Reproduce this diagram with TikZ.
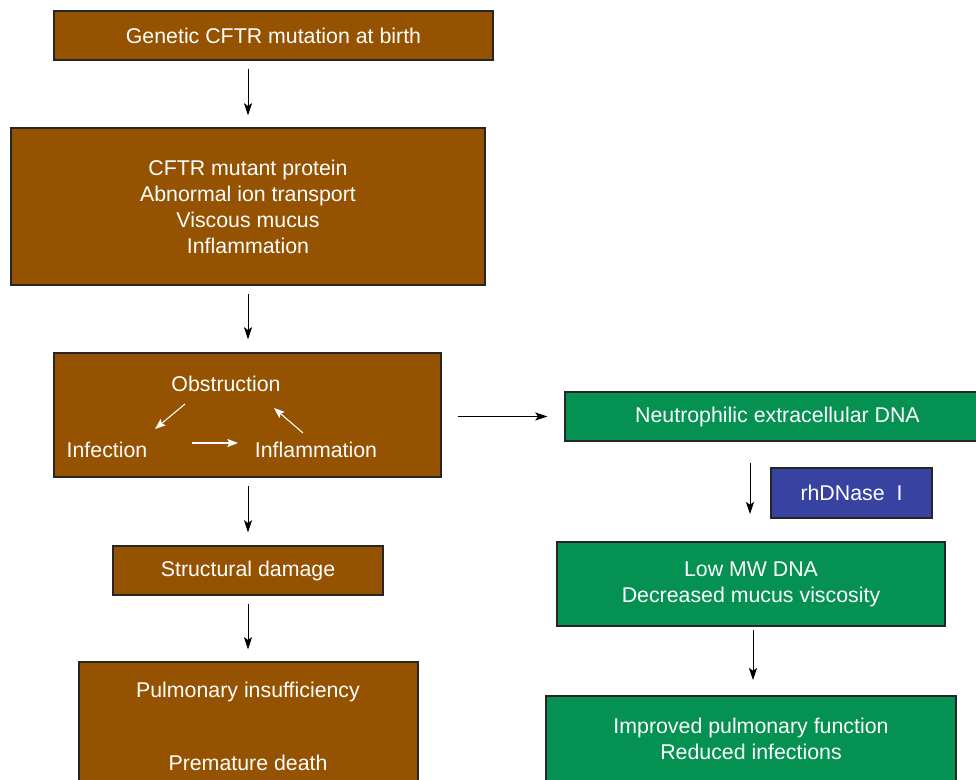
\documentclass[tikz,border=0pt]{standalone}
\usepackage{fontspec}
\setmainfont{Liberation Sans}
\usetikzlibrary{arrows.meta}
\definecolor{cfbrown}{RGB}{149,82,0}
\definecolor{cfgreen}{RGB}{4,145,82}
\definecolor{cfblue}{RGB}{56,66,160}
\tikzset{
  box/.style={draw=black!85, line width=1.1pt, text=white, inner sep=0pt, align=center,
    font=\fontsize{16}{19.5}\selectfont},
  brownbox/.style={box, fill=cfbrown},
  greenbox/.style={box, fill=cfgreen},
  bluebox/.style={box, fill=cfblue},
  lbl/.style={text=white, inner sep=0pt, font=\fontsize{16}{19.5}\selectfont},
  arr/.style={-{Stealth[length=9pt,width=6pt,inset=2pt]}, line width=0.7pt, black},
  warr/.style={-{Stealth[length=8pt,width=6pt,inset=1.5pt]}, line width=0.8pt, white},
}
\begin{document}
\begin{tikzpicture}[x=0.75pt,y=-0.75pt]
\useasboundingbox (0,0) rectangle (976,780);
\begin{scope}
\clip (0,0) rectangle (976,780);
\node[brownbox, minimum width=329.25pt, minimum height=36.75pt] (g) at (273.5,35.5) {Genetic CFTR mutation at birth};
\node[brownbox, minimum width=355.5pt, minimum height=117.75pt] (c) at (248,206.5) {CFTR mutant protein\\Abnormal ion transport\\Viscous mucus\\Inflammation};
\node[brownbox, minimum width=290.25pt, minimum height=93pt] (o) at (247.5,415) {};
\node[lbl] (obs) at (226,384) {Obstruction};
\node[lbl] (inf) at (107,450) {Infection};
\node[lbl] (infl) at (316,450) {Inflammation};
\node[brownbox, minimum width=202.5pt, minimum height=36.75pt] (s) at (248,570.5) {Structural damage};
\node[brownbox, minimum width=254.25pt, minimum height=98.25pt] (p) at (248.5,727.5) {};
\node[lbl] (pi) at (248,692) {Pulmonary insufficiency};
\node[lbl] (pd) at (248,763) {Premature death};
\node[greenbox, minimum width=318.75pt, minimum height=36.75pt] (n) at (777.5,416.5) {Neutrophilic extracellular DNA};
\node[bluebox, minimum width=120.75pt, minimum height=37.5pt] (r) at (851.5,493) {rhDNase\ \ I};
\node[greenbox, minimum width=291pt, minimum height=63pt] (l) at (751,584) {Low MW DNA\\Decreased mucus viscosity};
\node[greenbox, minimum width=307.5pt, minimum height=64.5pt] (i) at (751,739) {Improved pulmonary function\\Reduced infections};
\end{scope}
% main arrows
\draw[arr, shorten <=6pt, shorten >=9pt] (g.south -| c.north) -- (c.north);
\draw[arr, shorten <=6pt, shorten >=9.75pt] (c.south) -- (c.south |- o.north);
\draw[arr, shorten <=6pt, shorten >=9.75pt] (o.south -| s.north) -- (s.north);
\draw[arr, shorten <=6pt, shorten >=9pt] (s.south) -- (s.south |- p.north);
\draw[arr, shorten <=12pt, shorten >=12.75pt] (o.east |- n.west) -- (n.west);
\coordinate (nb) at (750,441);
\coordinate (lt) at (750,542);
\draw[arr, shorten <=16.5pt, shorten >=21pt] (nb) -- (lt);
\coordinate (lb) at (753,626);
\coordinate (it) at (753,696);
\draw[arr, shorten <=3pt, shorten >=12pt] (lb) -- (it);
% inner cycle arrows
\coordinate (a1) at (185,404); \coordinate (a2) at (155,429);
\coordinate (b1) at (303,433); \coordinate (b2) at (274,408);
\coordinate (c1) at (192,443); \coordinate (c2) at (238,443);
\draw[warr] (a1) -- (a2);
\draw[warr] (c1) -- (c2);
\draw[warr] (b1) -- (b2);
\end{tikzpicture}
\end{document}
